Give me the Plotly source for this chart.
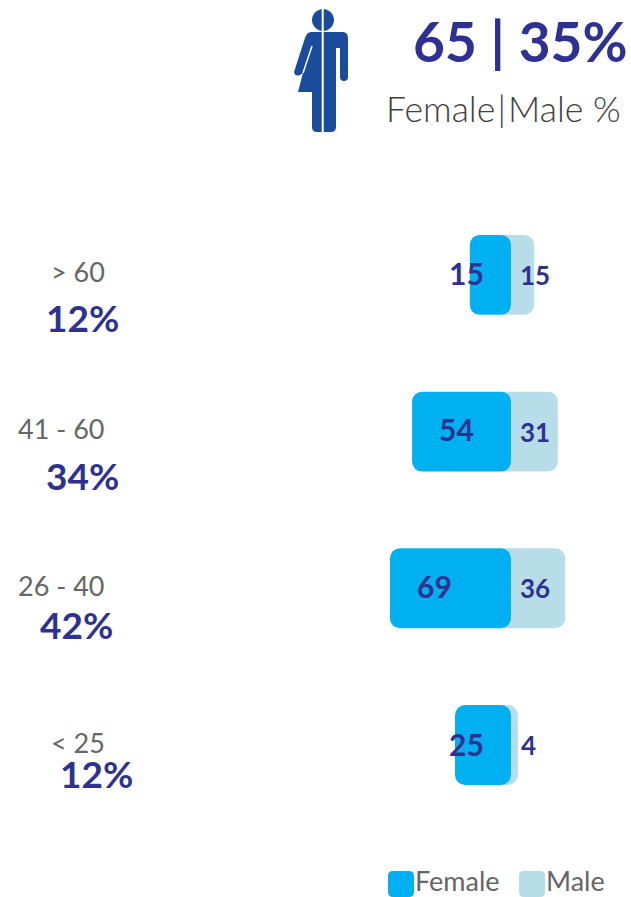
import plotly.graph_objects as go

W, H = 631, 897

# ---- data ----
age_groups = ["< 25", "26 - 40", "41 - 60", "> 60"]
female_values = [25, 69, 54, 15]
male_values = [4, 36, 31, 15]
age_share = ["12%", "42%", "34%", "12%"]
headline = "65\u2005|\u200535%"
subtitle = "Female\u200a|\u200aMale %"
series_names = ["Female", "Male"]

# ---- style / layout (not data) ----
FEMALE_C, MALE_C = "#00B0F0", "#B7DEE8"
NAVY, GREY, ICON = "#2E3192", "#666666", "#1B4C9B"
FONT = "Lato"
PX_PER_UNIT = 1.48
ZERO_PX = 492.0
TUCK = 12.8   # female bars run this far past zero, male bars start from there
ROW_0_PX, ROW_STEP = 745.0, 156.7

female_label_px = [466, 435, 457, 466]
male_label_px = [528, 535, 535, 535]
group_label_right_px = [107, 107, 107, 107]
group_label_dy = [3, 3, 3, 3]
share_label_px = [97, 76, 82, 82]
share_label_dy = [-28, -36, -44, -43]
female_label_dy = [1, 2, 3, 2]


def px(x):
    return x / W


def py(y):
    return 1 - y / H


def path(cmds):
    out = []
    for c in cmds:
        if isinstance(c, str):
            out.append(c)
        else:
            out.append(f"{px(c[0]):.5f},{py(c[1]):.5f}")
    return " ".join(out)


fig = go.Figure()
fig.add_trace(go.Bar(
    y=list(range(4)), x=[v + 0.7 + TUCK for v in male_values], base=0,
    orientation="h", name=series_names[1], width=0.51,
    marker=dict(color=MALE_C, cornerradius=10, line_width=0),
    hovertext=male_values, hoverinfo="text",
))
fig.add_trace(go.Bar(
    y=list(range(4)), x=[-(v + TUCK) for v in female_values], base=TUCK,
    orientation="h", name=series_names[0], width=0.51,
    marker=dict(color=FEMALE_C, cornerradius=10, line_width=0),
    hovertext=female_values, hoverinfo="text",
))

ann = []


def text(t, x, y, size, color, anchor="center", bold=False, weight=None, yref="paper", yshift=0):
    ann.append(dict(
        text=t, x=px(x), xref="paper", y=y, yref=yref, yshift=yshift,
        xanchor=anchor, yanchor="middle", showarrow=False,
        font=dict(family=FONT, size=size, color=color, weight=weight or (700 if bold else 400)),
    ))


for i in range(4):
    text(str(female_values[i]), female_label_px[i], i, 30, NAVY, bold=True, yref="y", yshift=female_label_dy[i])
    text(str(male_values[i]), male_label_px[i], i, 26, NAVY, bold=True, yref="y", yshift=0)
    text(age_groups[i], group_label_right_px[i], i, 27, GREY, anchor="right", yref="y", yshift=group_label_dy[i])
    text(age_share[i], share_label_px[i], i, 37, NAVY, bold=True, yref="y", yshift=share_label_dy[i])

text(headline, 630, py(41), 55, NAVY, anchor="right", bold=True)
text(subtitle, 623, py(108), 35.5, "#404040", anchor="right", weight=300)
text(series_names[0], 413, py(880), 27, GREY, anchor="left")
text(series_names[1], 544, py(880), 27, GREY, anchor="left")

shapes = []
for x0, c in [(388, FEMALE_C), (519, MALE_C)]:
    shapes.append(dict(
        type="path", xref="paper", yref="paper", fillcolor=c, line_width=0,
        path=path(["M", (x0 + 5, 871), "L", (x0 + 21, 871), "Q", (x0 + 26, 871), (x0 + 26, 876),
                   "L", (x0 + 26, 892), "Q", (x0 + 26, 897), (x0 + 21, 897), "L", (x0 + 5, 897),
                   "Q", (x0, 897), (x0, 892), "L", (x0, 876), "Q", (x0, 871), (x0 + 5, 871), "Z"]),
    ))

# icon
head = ["M", (323, 9), "C", (329, 9), (334, 14), (334, 20), "C", (334, 26), (329, 31), (323, 31),
        "C", (317, 31), (312, 26), (312, 20), "C", (312, 14), (317, 9), (323, 9), "Z"]
body = ["M", (311, 32), "L", (343, 32), "Q", (348, 32), (348, 39), "L", (348, 77),
        "Q", (348, 81), (344, 81), "Q", (340, 81), (340, 77), "L", (340, 48), "L", (336, 48),
        "L", (336, 127), "Q", (336, 132), (331, 132), "L", (317, 132), "Q", (312, 132), (312, 127),
        "L", (312, 92), "L", (298, 92), "L", (303, 73), "L", (300, 75), "Q", (295, 77), (294, 72),
        "L", (305, 38), "Q", (307, 32), (311, 32), "Z"]
shapes.append(dict(type="path", xref="paper", yref="paper", fillcolor=ICON, line_width=0, path=path(head)))
shapes.append(dict(type="path", xref="paper", yref="paper", fillcolor=ICON, line_width=0, path=path(body)))
for (x0, y0, x1, y1, w) in [(322.7, 6, 322.7, 134, 2), (312, 46, 303, 73, 1.5)]:
    shapes.append(dict(type="line", xref="paper", yref="paper", x0=px(x0), x1=px(x1), y0=py(y0), y1=py(y1),
                       line=dict(color="white", width=w)))

fig.update_layout(
    width=W, height=H, autosize=False, margin=dict(l=0, r=0, t=0, b=0),
    paper_bgcolor="white", plot_bgcolor="white", barmode="overlay", showlegend=False,
    annotations=ann, shapes=shapes,
    xaxis=dict(range=[-ZERO_PX / PX_PER_UNIT, (W - ZERO_PX) / PX_PER_UNIT], visible=False, fixedrange=True),
    yaxis=dict(range=[-(H - ROW_0_PX) / ROW_STEP, ROW_0_PX / ROW_STEP], visible=False, fixedrange=True),
)
fig.write_html("out.html", config={"displayModeBar": False},
               post_script="document.body.style.margin='0';document.documentElement.style.overflow='hidden';")
